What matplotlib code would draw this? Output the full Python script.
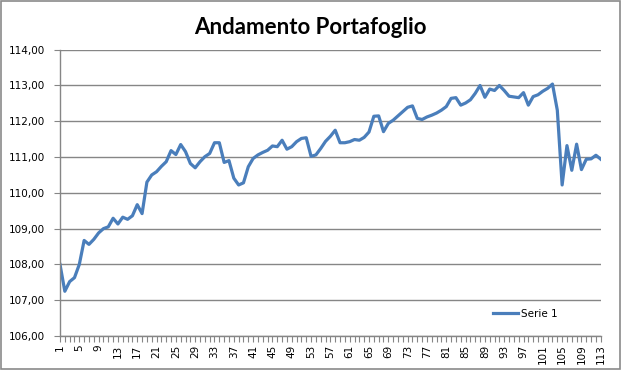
"""
Andamento Portafoglio line chart
"""

import numpy as np
import matplotlib
matplotlib.use('Agg')
import matplotlib.pyplot as plt
from matplotlib.ticker import FuncFormatter, FixedLocator
from matplotlib.patches import Rectangle

title = 'Andamento Portafoglio'
series_name = 'Serie 1'

#one value per period, 1..113
periods = list(range(1, 114))
values = [
	108.00, 107.25, 107.52, 107.63, 108.00, 108.67, 108.56, 108.70, 108.88, 109.00,
	109.05, 109.29, 109.13, 109.32, 109.26, 109.36, 109.67, 109.42, 110.30, 110.50,
	110.59, 110.74, 110.87, 111.18, 111.07, 111.35, 111.15, 110.82, 110.70, 110.87,
	111.01, 111.10, 111.40, 111.40, 110.85, 110.90, 110.41, 110.22, 110.28, 110.73,
	110.96, 111.06, 111.13, 111.19, 111.31, 111.29, 111.47, 111.22, 111.29, 111.43,
	111.52, 111.54, 111.02, 111.06, 111.24, 111.44, 111.58, 111.75, 111.40, 111.40,
	111.43, 111.49, 111.47, 111.55, 111.70, 112.14, 112.15, 111.71, 111.94, 112.03,
	112.15, 112.27, 112.39, 112.43, 112.08, 112.05, 112.12, 112.17, 112.23, 112.31,
	112.41, 112.64, 112.66, 112.45, 112.51, 112.60, 112.78, 113.00, 112.67, 112.90,
	112.86, 113.00, 112.86, 112.70, 112.68, 112.66, 112.80, 112.45, 112.69, 112.74,
	112.84, 112.92, 113.04, 112.31, 110.22, 111.32, 110.63, 111.36, 110.65, 110.94,
	110.95, 111.05, 110.94,
]

y_ticks = [106, 107, 108, 109, 110, 111, 112, 113, 114]
x_labels = periods[::4]

line_color = '#4a7ebb'
axis_color = '#868686'


def comma_fmt(v, pos):
	return f'{v:.2f}'.replace('.', ',')


def plot_chart():
	fig = plt.figure(figsize=(6.23, 3.70), dpi=100)

	#outer chart border like the spreadsheet frame
	fig.patches.append(Rectangle((0.0016, 0.004), 0.9936, 0.993, transform=fig.transFigure,
		fill=False, edgecolor='#8a8a8a', linewidth=1.2))

	ax = fig.add_axes([0.0963, 0.0919, 0.868, 0.7738])

	ax.plot(periods, values, color=line_color, linewidth=2.3, label=series_name,
		solid_joinstyle='round')

	ax.set_xlim(periods[0], periods[-1])
	ax.set_ylim(y_ticks[0], y_ticks[-1])

	ax.yaxis.set_major_locator(FixedLocator(y_ticks))
	ax.yaxis.set_major_formatter(FuncFormatter(comma_fmt))
	ax.grid(axis='y', color=axis_color, linewidth=1.0)
	ax.set_axisbelow(True)

	ax.set_xticks(x_labels)
	ax.set_xticklabels([str(p) for p in x_labels], rotation=90)
	ax.set_xticks(periods, minor=True)

	for side in ['top', 'right']:
		ax.spines[side].set_visible(False)
	for side in ['left', 'bottom']:
		ax.spines[side].set_color(axis_color)
		ax.spines[side].set_linewidth(1.0)

	ax.tick_params(axis='both', which='both', color=axis_color, labelsize=7.5, width=0.8)
	ax.tick_params(axis='x', which='both', length=4, pad=2)
	ax.tick_params(axis='y', length=4, pad=7)

	ax.legend(loc='center', bbox_to_anchor=(0.86, 0.077), frameon=False,
		fontsize=7.5, handlelength=2.4, handletextpad=0.3)

	fig.text(0.498, 0.925, title, ha='center', va='center', fontsize=16,
		fontweight='bold', family=['Lato', 'DejaVu Sans'])

	fig.savefig('out.png', dpi=100)
	plt.close()


def main():
	plot_chart()


if __name__ == '__main__':
	main()
